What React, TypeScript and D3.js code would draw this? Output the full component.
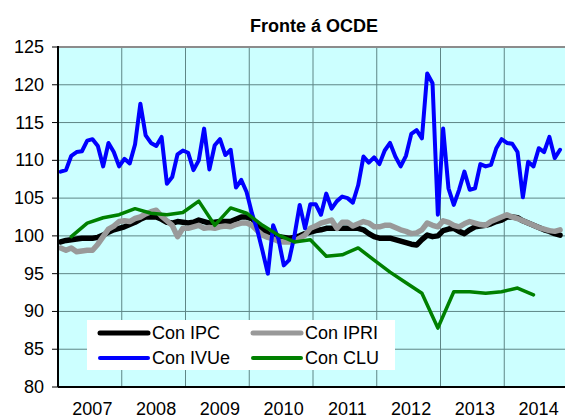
import React, { useEffect, useRef } from "react";
import * as d3 from "d3";

// monthly series, Jan 2007 .. Nov 2014
const ipc = [
  99.2, 99.4, 99.5, 99.6, 99.7, 99.7, 99.7, 99.8, 100.1, 100.5, 100.8, 101.0,
  101.2, 101.5, 101.8, 102.2, 102.5, 102.5, 102.5, 102.2, 101.8, 101.7, 101.9, 101.8,
  101.7, 101.8, 102.1, 101.9, 101.7, 101.8, 101.9, 101.9, 101.9, 102.2, 102.5, 102.5,
  102.3, 101.6, 100.9, 100.3, 99.9, 99.9, 99.8, 99.7, 99.8, 100.0, 100.3, 100.5,
  100.7, 100.8, 101.0, 101.0, 101.0, 101.0, 101.0, 101.0, 101.0, 100.8, 100.3, 99.9,
  99.7, 99.7, 99.7, 99.5, 99.3, 99.1, 98.9, 98.8, 99.5, 100.1, 99.9, 100.0,
  100.7, 100.9, 101.0, 100.6, 100.3, 100.8, 101.2, 101.3, 101.4, 101.6, 101.9, 102.1,
  102.5, 102.5, 102.4, 102.0, 101.7, 101.4, 101.1, 100.8, 100.6, 100.3, 100.1,
];

const ipri = [
  98.4, 98.1, 98.4, 97.9, 98.0, 98.1, 98.1, 98.9, 99.9, 100.9, 101.3, 101.9,
  102.0, 101.9, 102.3, 102.5, 102.9, 103.2, 103.4, 102.6, 102.0, 101.4, 99.9, 101.0,
  101.0, 101.2, 101.4, 101.0, 101.1, 101.0, 101.2, 101.3, 101.2, 101.5, 101.7, 101.7,
  101.4, 100.7, 100.1, 99.8, 99.6, 99.3, 99.2, 99.2, 99.3, 99.7, 100.1, 101.0,
  101.3, 101.7, 101.9, 102.1, 101.0, 101.8, 101.8, 101.3, 101.6, 101.9, 101.7, 101.2,
  101.2, 101.4, 101.4, 101.1, 100.8, 100.6, 100.3, 100.4, 100.8, 101.7, 101.4, 101.2,
  102.0, 101.8, 101.4, 101.2, 101.6, 101.9, 101.7, 101.5, 101.4, 101.9, 102.2, 102.5,
  102.8, 102.5, 102.3, 102.0, 101.7, 101.4, 101.1, 100.9, 100.7, 100.6, 100.8,
];

const ivue = [
  108.5, 108.7, 110.6, 111.1, 111.2, 112.6, 112.8, 111.9, 109.2, 112.3, 111.1, 109.2,
  110.2, 109.6, 112.1, 117.5, 113.3, 112.3, 111.9, 113.1, 106.9, 107.8, 110.8, 111.3,
  111.0, 108.7, 110.0, 114.2, 108.8, 112.0, 112.8, 110.7, 111.4, 106.4, 107.4, 105.8,
  103.0, 100.8, 98.0, 95.0, 101.4, 99.6, 96.1, 96.8, 100.0, 104.1, 101.0, 104.2,
  104.2, 102.8, 105.6, 103.6, 104.6, 105.2, 105.0, 104.4, 106.7, 110.5, 109.7, 110.4,
  109.5, 111.3, 112.3, 110.5, 109.2, 110.6, 113.5, 114.0, 112.9, 121.5, 120.2, 102.8,
  114.2, 106.3, 104.1, 106.1, 108.5, 106.1, 106.3, 109.5, 109.2, 109.4, 111.6, 112.8,
  112.3, 112.2, 111.1, 105.1, 109.8, 109.2, 111.6, 111.1, 113.1, 110.3, 111.4,
];

// quarterly, plotted on the last month of each quarter
const cluMonths = [2, 5, 8, 11, 14, 17, 20, 23, 26, 29, 32, 35, 38, 41, 44, 47, 50, 53, 56, 59, 62, 65, 68, 71, 74, 77, 80, 83, 86, 89];
const clu = [
  99.9, 101.7, 102.4, 102.8, 103.6, 103.0, 102.8, 103.1, 104.6, 101.4, 103.7, 103.0,
  101.4, 100.1, 99.2, 99.5, 97.3, 97.5, 98.4, 96.8, 95.2, 93.8, 92.4, 87.8,
  92.6, 92.6, 92.4, 92.6, 93.1, 92.2,
];

const years = ["2007", "2008", "2009", "2010", "2011", "2012", "2013", "2014"];
const yTicks = [80, 85, 90, 95, 100, 105, 110, 115, 120, 125];

const W = 565;
const H = 419;

const Chart = () => {
  const svgRef = useRef(null);

  useEffect(() => {
    const svg = d3.select(svgRef.current);
    svg.selectAll("*").remove();

    const left = 58, right = 568, top = 47, bottom = 387;
    const font = "'Liberation Sans', Arial, sans-serif";

    const x = d3.scaleLinear().domain([0, 96]).range([left, right]);
    const y = d3.scaleLinear().domain([80, 125]).range([bottom, top]);

    svg.append("rect")
      .attr("x", left).attr("y", top)
      .attr("width", right - left).attr("height", bottom - top)
      .attr("fill", "#ccffff");

    // grid
    svg.selectAll(".hgrid")
      .data(yTicks.slice(1, -1))
      .join("line")
      .attr("class", "hgrid")
      .attr("x1", left).attr("x2", right)
      .attr("y1", (d) => y(d)).attr("y2", (d) => y(d))
      .attr("stroke", "#5e8686").attr("stroke-width", 1);

    svg.selectAll(".vgrid")
      .data(d3.range(1, 8))
      .join("line")
      .attr("class", "vgrid")
      .attr("x1", (d) => x(d * 12)).attr("x2", (d) => x(d * 12))
      .attr("y1", top).attr("y2", bottom)
      .attr("stroke", "#5e8686").attr("stroke-width", 1);

    // top border
    svg.append("line")
      .attr("x1", left).attr("x2", right)
      .attr("y1", top).attr("y2", top)
      .attr("stroke", "#8c8c8c").attr("stroke-width", 2);

    const line = d3.line()
      .x((d) => x(d[0] + 0.5))
      .y((d) => y(d[1]));

    const series = [
      { values: ipc.map((v, i) => [i, v]), color: "#000000", width: 5.5 },
      { values: ipri.map((v, i) => [i, v]), color: "#999999", width: 5.5 },
      { values: ivue.map((v, i) => [i, v]), color: "#0000ff", width: 4 },
      { values: clu.map((v, i) => [cluMonths[i], v]), color: "#008000", width: 3.5 },
    ];

    svg.selectAll(".series")
      .data(series)
      .join("path")
      .attr("class", "series")
      .attr("d", (d) => line(d.values))
      .attr("fill", "none")
      .attr("stroke", (d) => d.color)
      .attr("stroke-width", (d) => d.width)
      .attr("stroke-linejoin", "round")
      .attr("stroke-linecap", "round");

    // axes
    svg.append("line")
      .attr("x1", left).attr("x2", left)
      .attr("y1", top - 1).attr("y2", bottom)
      .attr("stroke", "#000").attr("stroke-width", 2);
    svg.append("line")
      .attr("x1", left).attr("x2", right)
      .attr("y1", bottom).attr("y2", bottom)
      .attr("stroke", "#000").attr("stroke-width", 2);

    svg.selectAll(".ytick")
      .data(yTicks)
      .join("line")
      .attr("class", "ytick")
      .attr("x1", left - 6).attr("x2", left)
      .attr("y1", (d) => y(d)).attr("y2", (d) => y(d))
      .attr("stroke", "#000").attr("stroke-width", 1);

    svg.selectAll(".ylabel")
      .data(yTicks)
      .join("text")
      .attr("class", "ylabel")
      .attr("x", 44)
      .attr("y", (d) => y(d) + 6)
      .attr("text-anchor", "end")
      .attr("font-family", font)
      .attr("font-size", 18)
      .text((d) => d);

    svg.selectAll(".xlabel")
      .data(years)
      .join("text")
      .attr("class", "xlabel")
      .attr("x", (d, i) => x(i * 12 + 6) + 2.5)
      .attr("y", 415)
      .attr("text-anchor", "middle")
      .attr("font-family", font)
      .attr("font-size", 18)
      .text((d) => d);

    svg.append("text")
      .attr("x", 314)
      .attr("y", 32)
      .attr("text-anchor", "middle")
      .attr("font-family", font)
      .attr("font-size", 18)
      .attr("font-weight", "bold")
      .text("Fronte á OCDE");

    // legend
    const legend = svg.append("g");
    legend.append("rect")
      .attr("x", 87).attr("y", 320)
      .attr("width", 308).attr("height", 50)
      .attr("fill", "#ffffff");

    const items = [
      { label: "Con IPC", color: "#000000", col: 0, row: 0, width: 5 },
      { label: "Con IPRI", color: "#999999", col: 1, row: 0, width: 5 },
      { label: "Con IVUe", color: "#0000ff", col: 0, row: 1, width: 4 },
      { label: "Con CLU", color: "#008000", col: 1, row: 1, width: 4 },
    ];
    const colX = [100, 253];
    const rowY = [333, 358];

    legend.selectAll("line")
      .data(items)
      .join("line")
      .attr("x1", (d) => colX[d.col]).attr("x2", (d) => colX[d.col] + 48)
      .attr("y1", (d) => rowY[d.row]).attr("y2", (d) => rowY[d.row])
      .attr("stroke", (d) => d.color)
      .attr("stroke-width", (d) => d.width)
      .attr("stroke-linecap", "round");

    legend.selectAll("text")
      .data(items)
      .join("text")
      .attr("x", (d) => colX[d.col] + 52)
      .attr("y", (d) => rowY[d.row] + 6)
      .attr("font-family", font)
      .attr("font-size", 18)
      .text((d) => d.label);
  }, []);

  return (
    <svg
      ref={svgRef}
      width={W}
      height={H}
      style={{ position: "absolute", left: 0, top: 0, background: "#fff" }}
    />
  );
};

export default function App() {
  return <Chart />;
}
